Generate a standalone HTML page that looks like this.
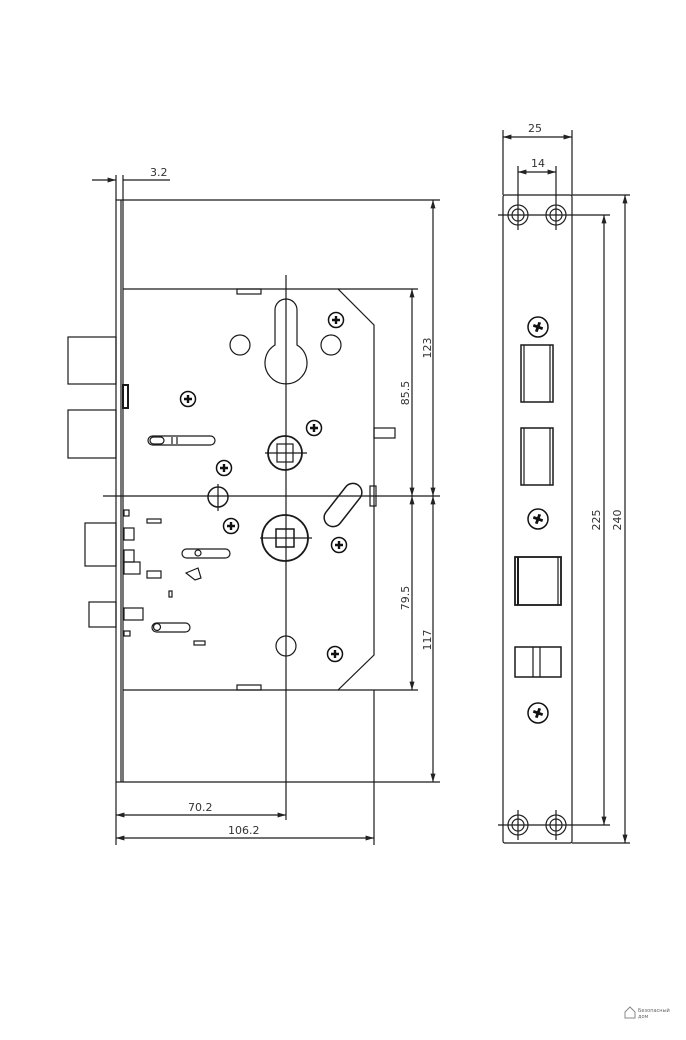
<!DOCTYPE html>
<html><head><meta charset="utf-8"><style>
html,body{margin:0;padding:0;background:#fff;width:686px;height:1040px;overflow:hidden}
svg{display:block}
text{font-family:"DejaVu Sans","Liberation Sans",sans-serif;font-size:11px;fill:#333}
</style></head><body>
<svg width="686" height="1040" viewBox="0 0 686 1040" xmlns="http://www.w3.org/2000/svg">
<defs>
<marker id="a" viewBox="0 0 10 10" refX="10" refY="5" markerWidth="7" markerHeight="7" orient="auto-start-reverse"><path d="M0,2 L10,5 L0,8 z" fill="#222"/></marker>
<g id="scr"><circle r="7.5" fill="#fff" stroke="#111" stroke-width="1.5"/><path d="M-4,0H4M0,-4V4" stroke="#111" stroke-width="2.4"/></g>
<g id="scr2"><circle r="10" fill="#fff" stroke="#111" stroke-width="1.5"/><path d="M-5,0H5M0,-5V5" stroke="#111" stroke-width="2.8" transform="rotate(20)"/></g>
<g id="hole"><circle r="10" fill="none" stroke="#222" stroke-width="1.2"/><circle r="6" fill="none" stroke="#222" stroke-width="1.2"/></g>
</defs>
<g stroke="#1a1a1a" stroke-width="1.2" fill="none">
<rect x="116" y="200" width="7" height="582"/>
<line x1="121" y1="200" x2="121" y2="782"/>
<line x1="123" y1="200" x2="440" y2="200"/>
<line x1="123" y1="782" x2="440" y2="782"/>
<path d="M123,289 H338 L374,325 V655 L338,690 H123"/>
<line x1="338" y1="289" x2="418" y2="289"/>
<line x1="338" y1="690" x2="418" y2="690"/>
<rect x="237" y="289" width="24" height="5"/>
<rect x="237" y="685" width="24" height="5"/>
<line x1="286" y1="275" x2="286" y2="820"/>
<line x1="103" y1="496" x2="440" y2="496"/>
<rect x="68" y="337" width="48" height="47"/>
<rect x="68" y="410" width="48" height="48"/>
<rect x="123" y="385" width="5" height="23" stroke-width="2"/>
<rect x="85" y="523" width="31" height="43"/>
<rect x="89" y="602" width="27" height="25"/>
<rect x="124" y="510" width="5" height="6"/>
<rect x="124" y="528" width="10" height="12"/>
<rect x="124" y="550" width="10" height="12"/>
<rect x="124" y="562" width="16" height="12"/>
<rect x="124" y="608" width="19" height="12"/>
<rect x="124" y="631" width="6" height="5"/>
<rect x="147" y="519" width="14" height="4"/>
<rect x="147" y="571" width="14" height="7"/>
<rect x="169" y="591" width="3" height="6"/>
<rect x="194" y="641" width="11" height="4"/>
<rect x="148" y="436" width="67" height="9" rx="4.5"/>
<rect x="150" y="437" width="14" height="7" rx="3.5"/>
<path d="M172,437v7M177,437v7"/>
<rect x="182" y="549" width="48" height="9" rx="4.5"/>
<circle cx="198" cy="553" r="3"/>
<rect x="152" y="623" width="38" height="9" rx="4.5"/>
<circle cx="157" cy="627" r="3.5"/>
<path d="M186,573 L198,568 L201,578 L195,580 Z"/>
<path d="M275,310 A11,11 0 0 1 297,310 V345 A21,21 0 1 1 275,345 Z"/>
<circle cx="240" cy="345" r="10"/>
<circle cx="331" cy="345" r="10"/>
<circle cx="286" cy="646" r="10"/>
<circle cx="285" cy="453" r="17" stroke-width="1.8"/>
<rect x="277" y="444" width="16" height="18"/>
<path d="M265,453H307"/>
<circle cx="285" cy="538" r="23" stroke-width="1.8"/>
<rect x="276" y="529" width="18" height="18" stroke-width="1.5"/>
<path d="M260,538H312"/>
<circle cx="218" cy="497" r="10" stroke-width="1.5"/>
<path d="M218,484V511"/>
<g transform="translate(343,505) rotate(-52)"><rect x="-25" y="-9" width="50" height="18" rx="9" stroke-width="1.5"/></g>
<rect x="370" y="486" width="6" height="20"/>
<rect x="374" y="428" width="21" height="10"/>
<line x1="116" y1="175" x2="116" y2="200"/>
<line x1="123" y1="175" x2="123" y2="200"/>
<line x1="92" y1="180" x2="116" y2="180" marker-end="url(#a)"/>
<line x1="123" y1="180" x2="170" y2="180"/>
<line x1="433" y1="200" x2="433" y2="496" marker-start="url(#a)" marker-end="url(#a)"/>
<line x1="433" y1="496" x2="433" y2="782" marker-start="url(#a)" marker-end="url(#a)"/>
<line x1="412" y1="289" x2="412" y2="496" marker-start="url(#a)" marker-end="url(#a)"/>
<line x1="412" y1="496" x2="412" y2="690" marker-start="url(#a)" marker-end="url(#a)"/>
<line x1="116" y1="782" x2="116" y2="845"/>
<line x1="374" y1="690" x2="374" y2="845"/>
<line x1="116" y1="815" x2="286" y2="815" marker-start="url(#a)" marker-end="url(#a)"/>
<line x1="116" y1="838" x2="374" y2="838" marker-start="url(#a)" marker-end="url(#a)"/>
<rect x="503" y="195" width="69" height="648" rx="2"/>
<line x1="503" y1="130" x2="503" y2="195"/>
<line x1="572" y1="130" x2="572" y2="195"/>
<line x1="503" y1="137" x2="572" y2="137" marker-start="url(#a)" marker-end="url(#a)"/>
<line x1="518" y1="166" x2="518" y2="230"/>
<line x1="556" y1="166" x2="556" y2="230"/>
<line x1="518" y1="172" x2="556" y2="172" marker-start="url(#a)" marker-end="url(#a)"/>
<line x1="518" y1="810" x2="518" y2="840"/>
<line x1="556" y1="810" x2="556" y2="840"/>
<line x1="498" y1="215" x2="610" y2="215"/>
<line x1="498" y1="825" x2="610" y2="825"/>
<line x1="572" y1="195" x2="630" y2="195"/>
<line x1="572" y1="843" x2="630" y2="843"/>
<line x1="604" y1="215" x2="604" y2="825" marker-start="url(#a)" marker-end="url(#a)"/>
<line x1="625" y1="195" x2="625" y2="843" marker-start="url(#a)" marker-end="url(#a)"/>
<rect x="521" y="345" width="32" height="57" stroke-width="1.5"/>
<line x1="524" y1="345" x2="524" y2="402"/><line x1="550" y1="345" x2="550" y2="402"/>
<rect x="521" y="428" width="32" height="57" stroke-width="1.5"/>
<line x1="524" y1="428" x2="524" y2="485"/><line x1="550" y1="428" x2="550" y2="485"/>
<rect x="515" y="557" width="46" height="48" stroke-width="1.8"/>
<line x1="518" y1="557" x2="518" y2="605" stroke-width="2"/><line x1="558" y1="557" x2="558" y2="605"/>
<rect x="515" y="647" width="46" height="30" stroke-width="1.5"/>
<line x1="533" y1="647" x2="533" y2="677"/><line x1="540" y1="647" x2="540" y2="677"/>
</g>
<use href="#hole" x="518" y="215"/><use href="#hole" x="556" y="215"/>
<use href="#hole" x="518" y="825"/><use href="#hole" x="556" y="825"/>
<use href="#scr2" x="538" y="327"/><use href="#scr2" x="538" y="519"/><use href="#scr2" x="538" y="713"/>
<use href="#scr" x="188" y="399"/><use href="#scr" x="314" y="428"/><use href="#scr" x="224" y="468"/>
<use href="#scr" x="231" y="526"/><use href="#scr" x="339" y="545"/><use href="#scr" x="335" y="654"/><use href="#scr" x="336" y="320"/>
<text x="150" y="176">3.2</text>
<text x="188" y="811">70.2</text>
<text x="228" y="834">106.2</text>
<text x="528" y="132">25</text>
<text x="531" y="167">14</text>
<text transform="translate(431,348) rotate(-90)" text-anchor="middle">123</text>
<text transform="translate(409,393) rotate(-90)" text-anchor="middle">85.5</text>
<text transform="translate(409,598) rotate(-90)" text-anchor="middle">79.5</text>
<text transform="translate(431,640) rotate(-90)" text-anchor="middle">117</text>
<text transform="translate(600,520) rotate(-90)" text-anchor="middle">225</text>
<text transform="translate(621,520) rotate(-90)" text-anchor="middle">240</text>
<path d="M625,1012 L630,1007 L635,1012 V1018 H625 Z" fill="none" stroke="#888"/>
<text x="638" y="1012" style="font-size:5px;fill:#666">Безопасный</text>
<text x="638" y="1018" style="font-size:5px;fill:#666">дом</text>
</svg>
</body></html>
